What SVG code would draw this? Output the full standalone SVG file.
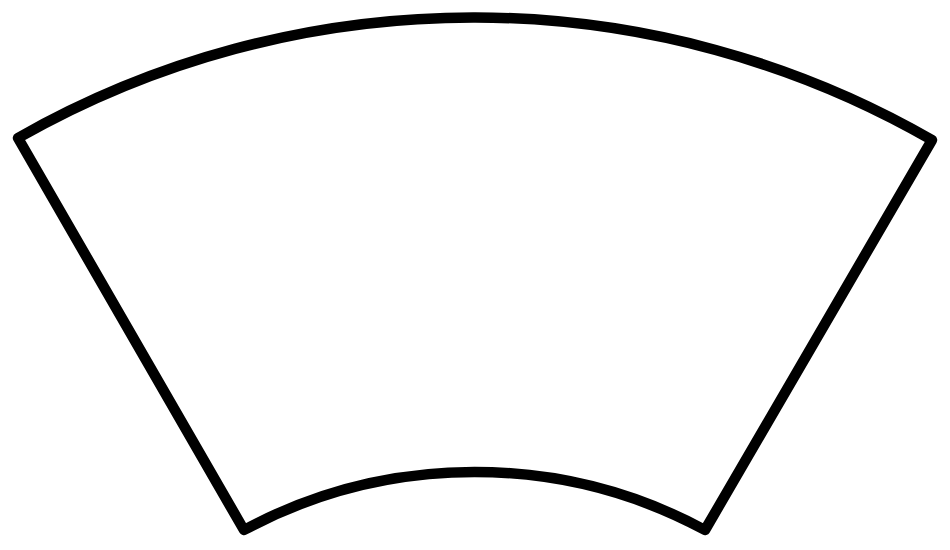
<svg xmlns="http://www.w3.org/2000/svg" width="950" height="550" viewBox="0 0 950 550">
<style>.s{fill:#fff;stroke:#000;stroke-width:10.5;stroke-linejoin:round}</style>
<rect width="950" height="550" fill="#fff"/>
<g id="sector">
<path class="s" d="M18,138 A920,920 0 0 1 932,140 L705,530 A487,487 0 0 0 244,530 Z"/>
</g>
</svg>
